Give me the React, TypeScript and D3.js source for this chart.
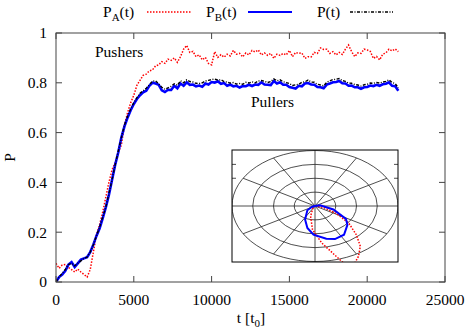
import React from 'react';
import * as d3 from 'd3';

// time axis sampled every 200 t0
const step = 200;

const pA = [
  0.075, 0.055, 0.068, 0.07, 0.058, 0.05, 0.04, 0.052, 0.04, 0.03, 0.02, 0.05, 0.12, 0.19, 0.23, 0.28,
  0.34, 0.40, 0.45, 0.48, 0.52, 0.55, 0.63, 0.68, 0.72, 0.75, 0.79, 0.81, 0.83, 0.835, 0.848, 0.852,
  0.868, 0.872, 0.885, 0.878, 0.895, 0.89, 0.9, 0.882, 0.905, 0.935, 0.95, 0.922, 0.926, 0.905, 0.912, 0.892,
  0.902, 0.878, 0.872, 0.925, 0.902, 0.913, 0.903, 0.915, 0.908, 0.93, 0.915, 0.918, 0.904, 0.92, 0.912, 0.93,
  0.924, 0.932, 0.912, 0.92, 0.91, 0.918, 0.898, 0.915, 0.91, 0.918, 0.912, 0.93, 0.905, 0.922, 0.918, 0.92,
  0.898, 0.905, 0.904, 0.922, 0.918, 0.94, 0.934, 0.935, 0.918, 0.925, 0.912, 0.922, 0.914, 0.935, 0.952, 0.925,
  0.905, 0.92, 0.918, 0.935, 0.932, 0.926, 0.898, 0.906, 0.892, 0.915, 0.92, 0.935, 0.928, 0.936, 0.925,
];

const pB = [
  0.0, 0.02, 0.03, 0.045, 0.07, 0.08, 0.06, 0.075, 0.09, 0.095, 0.10, 0.12, 0.15, 0.185, 0.215, 0.255,
  0.30, 0.35, 0.41, 0.47, 0.52, 0.58, 0.625, 0.66, 0.69, 0.715, 0.735, 0.75, 0.762, 0.768, 0.788, 0.80,
  0.797, 0.792, 0.77, 0.763, 0.772, 0.771, 0.788, 0.778, 0.797, 0.788, 0.802, 0.792, 0.793, 0.786, 0.789, 0.784,
  0.797, 0.793, 0.803, 0.801, 0.806, 0.796, 0.799, 0.788, 0.793, 0.786, 0.788, 0.781, 0.787, 0.786, 0.792, 0.787,
  0.793, 0.792, 0.802, 0.793, 0.792, 0.791, 0.807, 0.797, 0.802, 0.792, 0.792, 0.783, 0.78, 0.777, 0.788, 0.786,
  0.797, 0.799, 0.793, 0.792, 0.783, 0.782, 0.778, 0.793, 0.797, 0.802, 0.803, 0.807, 0.798, 0.797, 0.788, 0.789,
  0.782, 0.782, 0.776, 0.782, 0.783, 0.789, 0.787, 0.792, 0.788, 0.794, 0.796, 0.802, 0.788, 0.786, 0.768,
];

const pAll = [
  0.0, 0.02, 0.035, 0.05, 0.07, 0.075, 0.065, 0.075, 0.085, 0.095, 0.10, 0.12, 0.15, 0.185, 0.22, 0.26,
  0.30, 0.355, 0.41, 0.47, 0.525, 0.58, 0.63, 0.665, 0.695, 0.72, 0.74, 0.758, 0.768, 0.778, 0.792, 0.806,
  0.808, 0.795, 0.782, 0.774, 0.78, 0.786, 0.796, 0.79, 0.808, 0.80, 0.812, 0.805, 0.803, 0.798, 0.797, 0.80,
  0.807, 0.81, 0.813, 0.815, 0.811, 0.812, 0.805, 0.803, 0.799, 0.801, 0.795, 0.797, 0.794, 0.802, 0.799, 0.804,
  0.80, 0.807, 0.809, 0.806, 0.801, 0.805, 0.816, 0.808, 0.812, 0.804, 0.801, 0.797, 0.789, 0.792, 0.794, 0.802,
  0.804, 0.811, 0.803, 0.802, 0.794, 0.791, 0.788, 0.802, 0.808, 0.813, 0.814, 0.817, 0.809, 0.806, 0.799, 0.798,
  0.793, 0.791, 0.787, 0.792, 0.794, 0.799, 0.798, 0.801, 0.799, 0.803, 0.806, 0.812, 0.801, 0.797, 0.78,
];

const xTicks = [0, 5000, 10000, 15000, 20000, 25000];
const yTicks = [0, 0.2, 0.4, 0.6, 0.8, 1];

// inset: polar orientation distributions (angle in degrees, radius)
const blueAngle = [0, 12, -16, -32, -41, -56, -68, -77, -92, -103, -116, -140, -156];
const blueR = [0, 0.25, 0.92, 1.76, 2.07, 2.5, 2.57, 2.42, 2.07, 1.63, 1.09, 0.48, 0.17];
const redAngle = [0, -14, -28, -37, -46, -53, -60, -66, -71, -75, -83, -94, -106, -120];
const redR = [0, 0.41, 1.18, 2.03, 2.86, 3.63, 4.19, 4.62, 4.47, 3.64, 2.69, 1.71, 0.77, 0.22];
const gridRings = [1, 2, 3, 4];
const gridSpokes = [0, 30, 60, 90, 120, 150, 180, 210, 240, 270, 300, 330];

const W = 469, H = 328;
const M = { left: 56, right: 445, top: 33, bottom: 282 };
const font = "'Liberation Serif', 'Times New Roman', Times, serif";
const fs = 15.5;

export default function App() {
  const x = d3.scaleLinear().domain([0, 25000]).range([M.left, M.right]);
  const y = d3.scaleLinear().domain([0, 1]).range([M.bottom, M.top]);

  const line = d3.line<number>()
    .x((_, i) => x(i * step))
    .y(d => y(d));

  // inset geometry
  const box = { x0: 232, x1: 398, y0: 150, y1: 262 };
  const cx = 315, cy = 206;
  const rx = d3.scaleLinear().domain([0, 4]).range([0, 83]);
  const ry = d3.scaleLinear().domain([0, 4]).range([0, 55.5]);
  const polar = (a: number[], r: number[]) => {
    const pts = a.map((deg, i) => {
      const t = (deg * Math.PI) / 180;
      return [cx + rx(r[i]) * Math.cos(t), cy - ry(r[i]) * Math.sin(t)] as [number, number];
    });
    return d3.line().curve(d3.curveLinearClosed)(pts) || '';
  };

  const frame = '#444';

  return (
    <svg width={W} height={H} style={{ position: 'absolute', left: 0, top: 0, fontFamily: font }}>
      <rect width={W} height={H} fill="#fff" />
      <defs>
        <clipPath id="insetClip">
          <rect x={box.x0} y={box.y0} width={box.x1 - box.x0} height={box.y1 - box.y0} />
        </clipPath>
        <clipPath id="plotClip">
          <rect x={M.left} y={M.top} width={M.right - M.left} height={M.bottom - M.top} />
        </clipPath>
      </defs>

      {/* legend */}
      <g fontSize={fs}>
        <text x={103} y={17}>P<tspan fontSize={11} dy={4}>A</tspan><tspan dy={-4}>(t)</tspan></text>
        <line x1={147} x2={191} y1={12} y2={12} stroke="#f00" strokeWidth={1.5} strokeDasharray="1.5,1.5" />
        <text x={206} y={17}>P<tspan fontSize={11} dy={4}>B</tspan><tspan dy={-4}>(t)</tspan></text>
        <line x1={248} x2={292} y1={12} y2={12} stroke="#00f" strokeWidth={2} />
        <text x={317} y={17}>P(t)</text>
        <line x1={350} x2={393} y1={12} y2={12} stroke="#000" strokeWidth={1.5} strokeDasharray="3,1.5,1,1.5" />
      </g>

      {/* data */}
      <g clipPath="url(#plotClip)" fill="none">
        <path d={line(pA) || ''} stroke="#f00" strokeWidth={1.5} strokeDasharray="1.5,1.5" />
        <path d={line(pB) || ''} stroke="#00f" strokeWidth={2.6} />
        <path d={line(pAll) || ''} stroke="#000" strokeWidth={1.4} strokeDasharray="3,1.5,1,1.5" />
      </g>

      {/* frame and ticks */}
      <rect x={M.left} y={M.top} width={M.right - M.left} height={M.bottom - M.top} fill="none" stroke={frame} strokeWidth={1} />
      {xTicks.map(t => (
        <g key={'x' + t}>
          <line x1={x(t)} x2={x(t)} y1={M.bottom} y2={M.bottom - 6} stroke={frame} />
          <line x1={x(t)} x2={x(t)} y1={M.top} y2={M.top + 6} stroke={frame} />
          <text x={x(t)} y={305} textAnchor="middle" fontSize={fs}>{t}</text>
        </g>
      ))}
      {yTicks.map(v => (
        <g key={'y' + v}>
          <line x1={M.left} x2={M.left + 6} y1={y(v)} y2={y(v)} stroke={frame} />
          <line x1={M.right} x2={M.right - 6} y1={y(v)} y2={y(v)} stroke={frame} />
          <text x={47} y={y(v)} dy="0.35em" textAnchor="end" fontSize={fs}>{v}</text>
        </g>
      ))}
      <text x={251} y={323} textAnchor="middle" fontSize={fs}>t [t<tspan fontSize={11} dy={4}>0</tspan><tspan dy={-4}>]</tspan></text>
      <text transform={`translate(15,${(M.top + M.bottom) / 2}) rotate(-90)`} textAnchor="middle" fontSize={fs}>P</text>

      <text x={95} y={57} fontSize={fs}>Pushers</text>
      <text x={251} y={107} fontSize={fs}>Pullers</text>

      {/* inset */}
      <rect x={box.x0} y={box.y0} width={box.x1 - box.x0} height={box.y1 - box.y0} fill="#fff" />
      <g clipPath="url(#insetClip)" fill="none" stroke="#222" strokeWidth={0.8}>
        {gridRings.map(r => (
          <ellipse key={r} cx={cx} cy={cy} rx={rx(r)} ry={ry(r)} />
        ))}
        {gridSpokes.map(a => {
          const t = (a * Math.PI) / 180;
          return <line key={a} x1={cx} y1={cy} x2={cx + rx(4) * Math.cos(t)} y2={cy - ry(4) * Math.sin(t)} />;
        })}
        {[2, 3].map(r => (
          <g key={'it' + r}>
            <line x1={box.x0} x2={box.x0 + 4} y1={cy - ry(r)} y2={cy - ry(r)} />
            <line x1={box.x1} x2={box.x1 - 4} y1={cy - ry(r)} y2={cy - ry(r)} />
          </g>
        ))}
      </g>
      <g clipPath="url(#insetClip)" fill="none">
        <path d={polar(redAngle, redR)} stroke="#f00" strokeWidth={1.5} strokeDasharray="1.5,1.5" />
        <path d={polar(blueAngle, blueR)} stroke="#00f" strokeWidth={2} />
      </g>
      <rect x={box.x0} y={box.y0} width={box.x1 - box.x0} height={box.y1 - box.y0} fill="none" stroke="#000" strokeWidth={1} />
    </svg>
  );
}
